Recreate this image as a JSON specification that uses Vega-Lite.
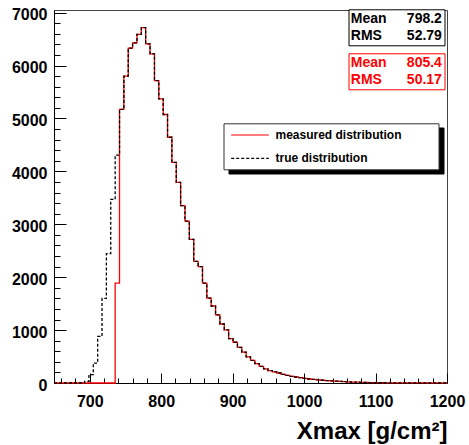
{
  "$schema": "https://vega.github.io/schema/vega-lite/v6.json",
  "width": 393,
  "height": 373,
  "autosize": {"type": "none"},
  "padding": {"left": 54, "top": 10, "right": 22, "bottom": 62},
  "background": "white",
  "config": {"view": {"stroke": "#444", "strokeWidth": 1}, "font": "Liberation Sans"},
  "datasets": {
    "shadow": [{"k": "s1"}, {"k": "s2"}],
    "statsTrue": [{"k": "Mean"}, {"k": "798.2"}, {"k": "RMS"}, {"k": "52.79"}],
    "statsMeas": [{"k": "Mean"}, {"k": "805.4"}, {"k": "RMS"}, {"k": "50.17"}],
    "hist": [
      {"s":"measured distribution","x":650,"n":0},{"s":"measured distribution","x":656.1,"n":0},{"s":"measured distribution","x":662.2,"n":0},{"s":"measured distribution","x":668.3,"n":0},{"s":"measured distribution","x":674.4,"n":0},{"s":"measured distribution","x":680.6,"n":0},{"s":"measured distribution","x":686.7,"n":0},{"s":"measured distribution","x":692.8,"n":0},{"s":"measured distribution","x":698.9,"n":0},{"s":"measured distribution","x":705,"n":0},{"s":"measured distribution","x":711.1,"n":0},{"s":"measured distribution","x":717.2,"n":0},{"s":"measured distribution","x":723.3,"n":0},{"s":"measured distribution","x":729.4,"n":0},{"s":"measured distribution","x":735.6,"n":1887},{"s":"measured distribution","x":741.7,"n":5170},{"s":"measured distribution","x":747.8,"n":5800},{"s":"measured distribution","x":753.9,"n":6330},{"s":"measured distribution","x":760,"n":6430},{"s":"measured distribution","x":766.1,"n":6590},{"s":"measured distribution","x":772.2,"n":6717},{"s":"measured distribution","x":778.3,"n":6410},{"s":"measured distribution","x":784.4,"n":6220},{"s":"measured distribution","x":790.6,"n":5715},{"s":"measured distribution","x":796.7,"n":5370},{"s":"measured distribution","x":802.8,"n":5075},{"s":"measured distribution","x":808.9,"n":4645},{"s":"measured distribution","x":815,"n":4170},{"s":"measured distribution","x":821.1,"n":3792},{"s":"measured distribution","x":827.2,"n":3351},{"s":"measured distribution","x":833.3,"n":3060},{"s":"measured distribution","x":839.4,"n":2713},{"s":"measured distribution","x":845.6,"n":2300},{"s":"measured distribution","x":851.7,"n":2200},{"s":"measured distribution","x":857.8,"n":1887},{"s":"measured distribution","x":863.9,"n":1605},{"s":"measured distribution","x":870,"n":1455},{"s":"measured distribution","x":876.1,"n":1289},{"s":"measured distribution","x":882.2,"n":1115},{"s":"measured distribution","x":888.3,"n":1006},{"s":"measured distribution","x":894.4,"n":840},{"s":"measured distribution","x":900.6,"n":770},{"s":"measured distribution","x":906.7,"n":672},{"s":"measured distribution","x":912.8,"n":585},{"s":"measured distribution","x":918.9,"n":492},{"s":"measured distribution","x":925,"n":426},{"s":"measured distribution","x":931.1,"n":368},{"s":"measured distribution","x":937.2,"n":313},{"s":"measured distribution","x":943.3,"n":266},{"s":"measured distribution","x":949.4,"n":234},{"s":"measured distribution","x":955.6,"n":210},{"s":"measured distribution","x":961.7,"n":189},{"s":"measured distribution","x":967.8,"n":162},{"s":"measured distribution","x":973.9,"n":143},{"s":"measured distribution","x":980,"n":125},{"s":"measured distribution","x":986.1,"n":113},{"s":"measured distribution","x":992.2,"n":100},{"s":"measured distribution","x":998.3,"n":87},{"s":"measured distribution","x":1004.4,"n":76},{"s":"measured distribution","x":1010.6,"n":67},{"s":"measured distribution","x":1016.7,"n":59},{"s":"measured distribution","x":1022.8,"n":52},{"s":"measured distribution","x":1028.9,"n":45},{"s":"measured distribution","x":1035,"n":40},{"s":"measured distribution","x":1041.1,"n":34},{"s":"measured distribution","x":1047.2,"n":29},{"s":"measured distribution","x":1053.3,"n":25},{"s":"measured distribution","x":1059.4,"n":21},{"s":"measured distribution","x":1065.6,"n":18},{"s":"measured distribution","x":1071.7,"n":15},{"s":"measured distribution","x":1077.8,"n":12},{"s":"measured distribution","x":1083.9,"n":10},{"s":"measured distribution","x":1090,"n":8},{"s":"measured distribution","x":1096.1,"n":7},{"s":"measured distribution","x":1102.2,"n":6},{"s":"measured distribution","x":1108.3,"n":5},{"s":"measured distribution","x":1114.4,"n":4},{"s":"measured distribution","x":1120.6,"n":3},{"s":"measured distribution","x":1126.7,"n":3},{"s":"measured distribution","x":1132.8,"n":2},{"s":"measured distribution","x":1138.9,"n":2},{"s":"measured distribution","x":1145,"n":2},{"s":"measured distribution","x":1151.1,"n":1},{"s":"measured distribution","x":1157.2,"n":1},{"s":"measured distribution","x":1163.3,"n":1},{"s":"measured distribution","x":1169.4,"n":1},{"s":"measured distribution","x":1175.6,"n":0},{"s":"measured distribution","x":1181.7,"n":1},{"s":"measured distribution","x":1187.8,"n":0},{"s":"measured distribution","x":1193.9,"n":0},{"s":"measured distribution","x":1200,"n":0},
      {"s":"true distribution","x":650,"n":0},{"s":"true distribution","x":656.1,"n":0},{"s":"true distribution","x":662.2,"n":0},{"s":"true distribution","x":668.3,"n":0},{"s":"true distribution","x":674.4,"n":0},{"s":"true distribution","x":680.6,"n":0},{"s":"true distribution","x":686.7,"n":5},{"s":"true distribution","x":692.8,"n":30},{"s":"true distribution","x":698.9,"n":160},{"s":"true distribution","x":705,"n":377},{"s":"true distribution","x":711.1,"n":880},{"s":"true distribution","x":717.2,"n":1600},{"s":"true distribution","x":723.3,"n":2445},{"s":"true distribution","x":729.4,"n":3470},{"s":"true distribution","x":735.6,"n":4308},{"s":"true distribution","x":741.7,"n":5170},{"s":"true distribution","x":747.8,"n":5800},{"s":"true distribution","x":753.9,"n":6330},{"s":"true distribution","x":760,"n":6430},{"s":"true distribution","x":766.1,"n":6590},{"s":"true distribution","x":772.2,"n":6717},{"s":"true distribution","x":778.3,"n":6410},{"s":"true distribution","x":784.4,"n":6220},{"s":"true distribution","x":790.6,"n":5715},{"s":"true distribution","x":796.7,"n":5370},{"s":"true distribution","x":802.8,"n":5075},{"s":"true distribution","x":808.9,"n":4645},{"s":"true distribution","x":815,"n":4170},{"s":"true distribution","x":821.1,"n":3792},{"s":"true distribution","x":827.2,"n":3351},{"s":"true distribution","x":833.3,"n":3060},{"s":"true distribution","x":839.4,"n":2713},{"s":"true distribution","x":845.6,"n":2300},{"s":"true distribution","x":851.7,"n":2200},{"s":"true distribution","x":857.8,"n":1887},{"s":"true distribution","x":863.9,"n":1605},{"s":"true distribution","x":870,"n":1455},{"s":"true distribution","x":876.1,"n":1289},{"s":"true distribution","x":882.2,"n":1115},{"s":"true distribution","x":888.3,"n":1006},{"s":"true distribution","x":894.4,"n":840},{"s":"true distribution","x":900.6,"n":770},{"s":"true distribution","x":906.7,"n":672},{"s":"true distribution","x":912.8,"n":585},{"s":"true distribution","x":918.9,"n":492},{"s":"true distribution","x":925,"n":426},{"s":"true distribution","x":931.1,"n":368},{"s":"true distribution","x":937.2,"n":313},{"s":"true distribution","x":943.3,"n":266},{"s":"true distribution","x":949.4,"n":234},{"s":"true distribution","x":955.6,"n":210},{"s":"true distribution","x":961.7,"n":189},{"s":"true distribution","x":967.8,"n":162},{"s":"true distribution","x":973.9,"n":143},{"s":"true distribution","x":980,"n":125},{"s":"true distribution","x":986.1,"n":113},{"s":"true distribution","x":992.2,"n":100},{"s":"true distribution","x":998.3,"n":87},{"s":"true distribution","x":1004.4,"n":76},{"s":"true distribution","x":1010.6,"n":67},{"s":"true distribution","x":1016.7,"n":59},{"s":"true distribution","x":1022.8,"n":52},{"s":"true distribution","x":1028.9,"n":45},{"s":"true distribution","x":1035,"n":40},{"s":"true distribution","x":1041.1,"n":34},{"s":"true distribution","x":1047.2,"n":29},{"s":"true distribution","x":1053.3,"n":25},{"s":"true distribution","x":1059.4,"n":21},{"s":"true distribution","x":1065.6,"n":18},{"s":"true distribution","x":1071.7,"n":15},{"s":"true distribution","x":1077.8,"n":12},{"s":"true distribution","x":1083.9,"n":10},{"s":"true distribution","x":1090,"n":8},{"s":"true distribution","x":1096.1,"n":7},{"s":"true distribution","x":1102.2,"n":6},{"s":"true distribution","x":1108.3,"n":5},{"s":"true distribution","x":1114.4,"n":4},{"s":"true distribution","x":1120.6,"n":3},{"s":"true distribution","x":1126.7,"n":3},{"s":"true distribution","x":1132.8,"n":2},{"s":"true distribution","x":1138.9,"n":2},{"s":"true distribution","x":1145,"n":2},{"s":"true distribution","x":1151.1,"n":1},{"s":"true distribution","x":1157.2,"n":1},{"s":"true distribution","x":1163.3,"n":1},{"s":"true distribution","x":1169.4,"n":1},{"s":"true distribution","x":1175.6,"n":0},{"s":"true distribution","x":1181.7,"n":1},{"s":"true distribution","x":1187.8,"n":0},{"s":"true distribution","x":1193.9,"n":0},{"s":"true distribution","x":1200,"n":0}
    ]
  },
  "layer": [
    {
      "data": {"name": "shadow"},
      "mark": {"type": "point", "opacity": 0},
      "encoding": {
        "fill": {
          "field": "k", "type": "nominal",
          "scale": {"domain": ["s1", "s2"], "range": ["black", "black"]},
          "legend": {
            "orient": "none", "legendX": 174.5, "legendY": 117.5, "title": null,
            "fillColor": "black", "strokeColor": "black", "padding": 4.7,
            "symbolType": "M-0.667,0H5.6M32.6,0", "symbolSize": 144, "symbolStrokeWidth": 1.2,
            "labelFont": "Liberation Sans", "labelFontSize": 12, "labelFontWeight": "bold", "labelColor": "black",
            "labelOffset": 33.3, "rowPadding": 10.3, "labelLimit": 400,
            "labelExpr": "''"
          }
        }
      }
    },
    {
      "data": {"name": "statsTrue"},
      "mark": {"type": "point", "opacity": 0},
      "encoding": {
        "shape": {
          "field": "k", "type": "nominal",
          "scale": {"domain": ["Mean", "RMS", "798.2", "52.79"]},
          "legend": {
            "orient": "none", "legendX": 294.5, "legendY": -0.7, "title": null,
            "columns": 2, "columnPadding": 20, "rowPadding": 3, "padding": 2.35,
            "fillColor": "white", "strokeColor": "black",
            "symbolType": "circle", "symbolSize": 0, "symbolStrokeWidth": 0, "labelOffset": -14,
            "labelFont": "Liberation Sans", "labelFontSize": 14, "labelFontWeight": "bold", "labelColor": "black"
          }
        }
      }
    },
    {
      "data": {"name": "statsMeas"},
      "mark": {"type": "point", "opacity": 0},
      "encoding": {
        "stroke": {
          "field": "k", "type": "nominal",
          "scale": {"domain": ["Mean", "RMS", "805.4", "50.17"]},
          "legend": {
            "orient": "none", "legendX": 294.5, "legendY": 43.3, "title": null,
            "columns": 2, "columnPadding": 20, "rowPadding": 3, "padding": 2.35,
            "fillColor": "white", "strokeColor": "#ff0000",
            "symbolType": "circle", "symbolSize": 0, "symbolStrokeWidth": 0, "labelOffset": -14,
            "labelFont": "Liberation Sans", "labelFontSize": 14, "labelFontWeight": "bold", "labelColor": "#ff0000"
          }
        }
      }
    },
    {
      "data": {"name": "hist"},
      "encoding": {
        "x": {
          "field": "x", "type": "quantitative",
          "scale": {"domain": [650, 1200], "nice": false, "zero": false},
          "axis": {
            "values": [660,680,700,720,740,760,780,800,820,840,860,880,900,920,940,960,980,1000,1020,1040,1060,1080,1100,1120,1140,1160,1180,1200],
            "labelExpr": "datum.value % 100 === 0 ? '' + datum.value : ''",
            "tickSize": {"condition": {"test": "datum.value % 100 === 0", "value": -10}, "value": -5},
            "tickColor": "black", "tickWidth": 1,
            "domainColor": "black", "domainWidth": 1, "grid": false,
            "labelFont": "Liberation Sans", "labelFontSize": 16, "labelFontWeight": "bold", "labelColor": "black",
            "labelPadding": 33, "labelBaseline": "alphabetic", "labelOverlap": false, "labelFlush": false,
            "title": "Xmax [g/cm²]", "titleFont": "Liberation Sans", "titleFontSize": 24, "titleFontWeight": "bold", "titleColor": "black",
            "titleAnchor": "end", "titleAlign": "right", "titleBaseline": "alphabetic", "titleX": 393, "titleY": 55
          }
        },
        "y": {
          "field": "n", "type": "quantitative",
          "scale": {"domain": [0, 7050], "nice": false},
          "axis": {
            "values": [0,200,400,600,800,1000,1200,1400,1600,1800,2000,2200,2400,2600,2800,3000,3200,3400,3600,3800,4000,4200,4400,4600,4800,5000,5200,5400,5600,5800,6000,6200,6400,6600,6800,7000],
            "labelExpr": "datum.value % 1000 === 0 ? '' + datum.value : ''",
            "tickSize": {"condition": {"test": "datum.value % 1000 === 0", "value": -12}, "value": -6},
            "tickColor": "black", "tickWidth": 1,
            "domainColor": "black", "domainWidth": 1, "grid": false,
            "labelFont": "Liberation Sans", "labelFontSize": 16, "labelFontWeight": "bold", "labelColor": "black",
            "labelPadding": 19, "labelBaseline": "middle", "labelOffset": 2, "labelOverlap": false, "labelFlush": false,
            "title": null
          }
        },
        "color": {
          "field": "s", "type": "nominal",
          "scale": {"domain": ["measured distribution", "true distribution"], "range": ["#ff0000", "#000000"]},
          "legend": {
            "orient": "none", "legendX": 169.5, "legendY": 113.3, "title": null,
            "fillColor": "white", "strokeColor": "#333", "padding": 4.7,
            "symbolType": "M-0.667,0H5.6M32.6,0", "symbolSize": 144, "symbolStrokeWidth": 1.2,
            "labelFont": "Liberation Sans", "labelFontSize": 12, "labelFontWeight": "bold", "labelColor": "black",
            "labelOffset": 33.3, "rowPadding": 10.3, "labelLimit": 400
          }
        },
        "strokeDash": {
          "field": "s", "type": "nominal",
          "scale": {"domain": ["measured distribution", "true distribution"], "range": [[1, 0], [3, 2]]},
          "legend": {
            "orient": "none", "legendX": 169.5, "legendY": 113.3, "title": null,
            "fillColor": "white", "strokeColor": "#333", "padding": 4.7,
            "symbolType": "M-0.667,0H5.6M32.6,0", "symbolSize": 144, "symbolStrokeWidth": 1.2,
            "labelFont": "Liberation Sans", "labelFontSize": 12, "labelFontWeight": "bold", "labelColor": "black",
            "labelOffset": 33.3, "rowPadding": 10.3, "labelLimit": 400
          }
        }
      },
      "layer": [
        {"transform": [{"filter": "datum.s == 'measured distribution'"}], "mark": {"type": "line", "interpolate": "step-after", "strokeWidth": 1.3}},
        {"transform": [{"filter": "datum.s == 'true distribution'"}], "mark": {"type": "line", "interpolate": "step-after", "strokeWidth": 1.3}}
      ]
    }
  ]
}
